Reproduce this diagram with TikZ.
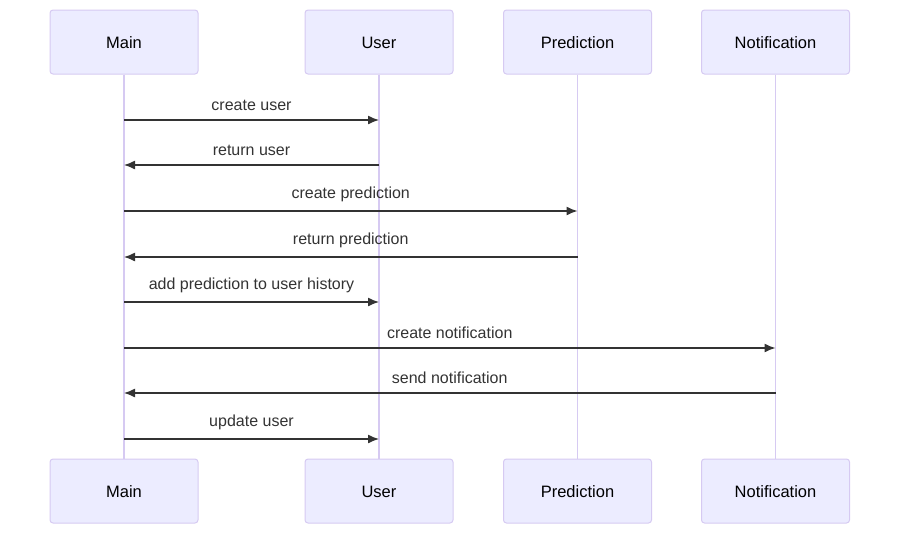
\documentclass[tikz,border=0pt]{standalone}
\usepackage{fontspec}
\setmainfont{Liberation Sans}
\usetikzlibrary{calc,arrows.meta}
\definecolor{actorfill}{HTML}{ECECFF}
\definecolor{actorline}{HTML}{D6CAF2}
\definecolor{msgcol}{HTML}{333333}
\tikzset{
  actor/.style={draw=actorline, fill=actorfill, line width=1pt, rounded corners=3pt,
    minimum width=148pt, minimum height=64pt, text height=12.5pt, text depth=0pt,
    font=\fontsize{16.5}{19}\selectfont},
  lifeline/.style={draw=actorline, line width=1.8pt},
  msg/.style={draw=msgcol, line width=1.3pt, -{Latex[length=11pt,width=9pt]}},
  msglabel/.style={text=msgcol, font=\fontsize{16}{19}\selectfont, above=5pt}
}
\begin{document}
\begin{tikzpicture}[x=1pt,y=-1pt]
        \useasboundingbox (0,0) rectangle (908,539);
        % actors, top and bottom
        \foreach \n/\x/\t in {main/124/Main, user/379/User, pred/577.5/Prediction, notif/775.5/Notification}{
            \node[actor] (\n) at (\x,42) {\t};
            \node[actor] (\n b) at (\x,491) {\t};
            \draw[lifeline] (\n.south) -- (\n b.north);
        }
        % messages
        \foreach \y/\a/\b/\txt [count=\i] in {120/main/user/create user,
            165/user/main/return user,
            211/main/pred/create prediction,
            257/pred/main/return prediction,
            302/main/user/add prediction to user history,
            348/main/notif/create notification,
            393/notif/main/send notification,
            439/main/user/update user}{
            \coordinate (m\i) at (0,\y);
            \draw[msg] (\a |- m\i) -- node[msglabel] {\txt} (\b |- m\i);
        }
    \end{tikzpicture}
\end{document}
